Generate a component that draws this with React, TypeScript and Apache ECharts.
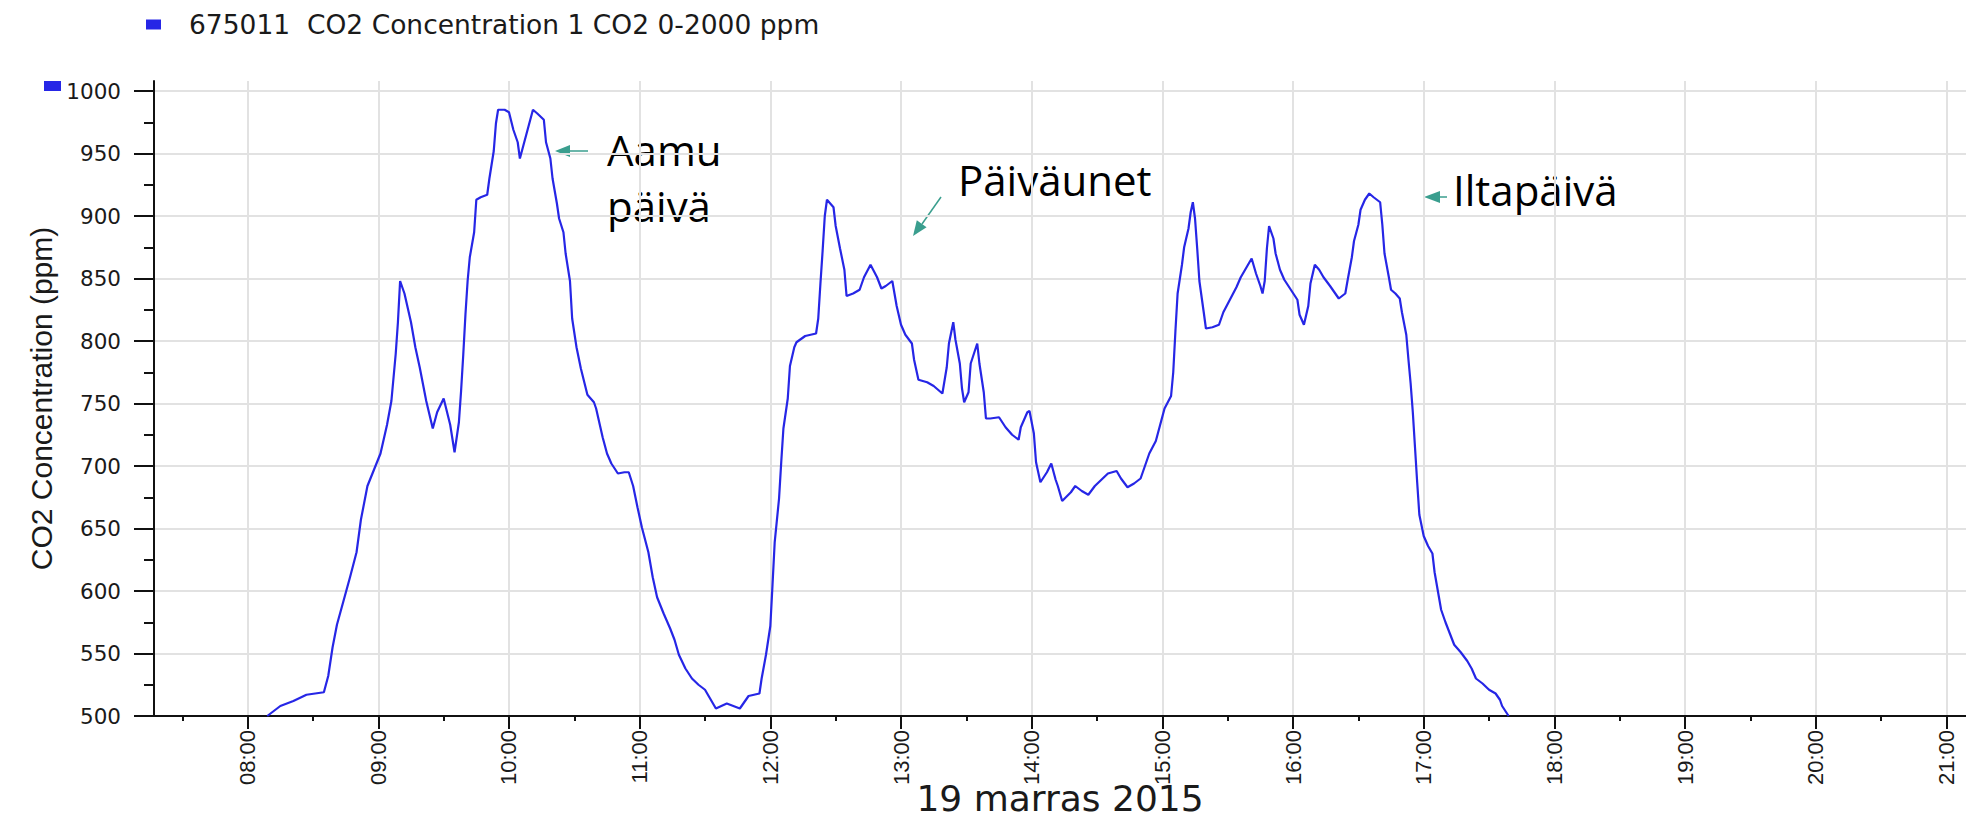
import React, { useEffect, useRef } from "react";
import * as echarts from "echarts";

const seriesName = "675011  CO2 Concentration 1 CO2 0-2000 ppm";
const xAxisName = "19 marras 2015";
const yAxisName = "CO2 Concentration (ppm)";

const times = [
  "08:09", "08:15", "08:21", "08:27", "08:35", "08:37", "08:39", "08:41", "08:44", "08:47",
  "08:50", "08:52", "08:55", "08:58", "09:01", "09:04", "09:06", "09:08", "09:09", "09:10",
  "09:12", "09:15", "09:17", "09:19", "09:22", "09:25", "09:27", "09:30", "09:33", "09:35",
  "09:37", "09:38", "09:39", "09:40", "09:41", "09:42", "09:44", "09:45", "09:47", "09:50",
  "09:51", "09:53", "09:54", "09:55", "09:58", "10:00", "10:02", "10:04", "10:05", "10:07",
  "10:09", "10:11", "10:13", "10:16", "10:17", "10:19", "10:20", "10:22", "10:23", "10:25",
  "10:26", "10:28", "10:29", "10:31", "10:33", "10:36", "10:39", "10:40", "10:43", "10:45",
  "10:47", "10:50", "10:53", "10:55", "10:57", "10:59", "11:01", "11:04", "11:06", "11:08",
  "11:11", "11:14", "11:16", "11:18", "11:21", "11:24", "11:27", "11:30", "11:32", "11:35",
  "11:40", "11:43", "11:46", "11:50", "11:55", "11:56", "11:58", "12:00", "12:01", "12:02",
  "12:04", "12:05", "12:06", "12:08", "12:09", "12:11", "12:12", "12:16", "12:21", "12:22",
  "12:23", "12:24", "12:25", "12:26", "12:29", "12:30", "12:32", "12:34", "12:35", "12:38",
  "12:41", "12:43", "12:46", "12:49", "12:51", "12:53", "12:56", "12:58", "13:00", "13:02",
  "13:05", "13:06", "13:08", "13:12", "13:15", "13:17", "13:19", "13:21", "13:22", "13:24",
  "13:25", "13:27", "13:28", "13:29", "13:31", "13:32", "13:35", "13:36", "13:38", "13:39",
  "13:41", "13:45", "13:48", "13:51", "13:54", "13:55", "13:58", "13:59", "14:01", "14:02",
  "14:04", "14:07", "14:09", "14:11", "14:12", "14:14", "14:18", "14:20", "14:23", "14:26",
  "14:29", "14:32", "14:35", "14:39", "14:41", "14:44", "14:47", "14:50", "14:52", "14:54",
  "14:57", "14:59", "15:01", "15:04", "15:05", "15:06", "15:07", "15:09", "15:10", "15:12",
  "15:13", "15:14", "15:15", "15:16", "15:17", "15:19", "15:20", "15:23", "15:26", "15:28",
  "15:31", "15:34", "15:36", "15:39", "15:41", "15:43", "15:45", "15:46", "15:47", "15:48",
  "15:49", "15:51", "15:52", "15:54", "15:56", "15:59", "16:02", "16:03", "16:05", "16:07",
  "16:08", "16:10", "16:12", "16:14", "16:17", "16:19", "16:21", "16:24", "16:25", "16:27",
  "16:28", "16:30", "16:31", "16:33", "16:35", "16:37", "16:40", "16:41", "16:42", "16:44",
  "16:45", "16:47", "16:49", "16:50", "16:52", "16:53", "16:54", "16:55", "16:56", "16:57",
  "16:58", "17:00", "17:02", "17:04", "17:05", "17:07", "17:08", "17:10", "17:12", "17:14",
  "17:17", "17:20", "17:22", "17:24", "17:27", "17:30", "17:33", "17:35", "17:36", "17:39",
];

const co2 = [
  500, 508, 512, 517, 519, 532, 555, 573, 592, 611,
  631, 657, 684, 697, 710, 733, 752, 790, 815, 848,
  838, 815, 795, 779, 752, 730, 743, 754, 733, 711,
  735, 760, 789, 821, 848, 867, 887, 913, 915, 917,
  930, 952, 974, 985, 985, 983, 969, 959, 946, 959,
  972, 985, 982, 977, 959, 946, 930, 910, 898, 887,
  870, 848, 818, 795, 778, 757, 751, 746, 723, 710,
  702, 694, 695, 695, 684, 667, 651, 631, 611, 595,
  582, 570, 561, 549, 538, 530, 525, 521, 515, 506,
  510, 508, 506, 516, 518, 530, 549, 572, 605, 639,
  674, 703, 730, 754, 780, 795, 799, 804, 806, 818,
  846, 872, 900, 913, 907, 892, 874, 857, 836, 838,
  841, 851, 861, 851, 842, 844, 848, 828, 813, 805,
  798, 785, 769, 767, 764, 761, 758, 779, 798, 815,
  801, 782, 762, 751, 759, 782, 798, 782, 759, 738,
  738, 739, 731, 725, 721, 731, 743, 744, 726, 703,
  687, 695, 702, 689, 684, 672, 679, 684, 680, 677,
  684, 689, 694, 696, 690, 683, 686, 690, 700, 710,
  720, 733, 746, 756, 775, 808, 838, 861, 875, 890,
  903, 911, 898, 874, 848, 823, 810, 811, 813, 823,
  833, 843, 851, 860, 866, 854, 844, 838, 848, 874,
  892, 882, 870, 857, 849, 841, 833, 821, 813, 828,
  846, 861, 857, 851, 844, 839, 834, 838, 848, 867,
  880, 893, 905, 913, 918, 915, 911, 893, 870, 851,
  841, 838, 834, 823, 805, 785, 766, 743, 715, 687,
  661, 644, 636, 630, 615, 595, 585, 575, 566, 557,
  551, 544, 538, 530, 526, 521, 518, 513, 508, 500,
];

const hourLabels = [
  "08:00", "09:00", "10:00", "11:00", "12:00", "13:00", "14:00",
  "15:00", "16:00", "17:00", "18:00", "19:00", "20:00", "21:00",
];
const halfHourLabels = [
  "07:30", "08:30", "09:30", "10:30", "11:30", "12:30", "13:30",
  "14:30", "15:30", "16:30", "17:30", "18:30", "19:30", "20:30",
];
const yTicks = [500, 550, 600, 650, 700, 750, 800, 850, 900, 950, 1000];
const yMinorTicks = [525, 575, 625, 675, 725, 775, 825, 875, 925, 975];
const annotationTexts = ["Aamu", "päivä", "Päiväunet", "Iltapäivä"];

const toMin = (t: string) => {
  const [h, m] = t.split(":").map(Number);
  return h * 60 + m;
};
const pad = (n: number) => (n < 10 ? "0" + n : String(n));
const fmt = (v: number) => pad(Math.floor(v / 60)) + ":" + pad(Math.round(v % 60));

const X_MIN = toMin("07:17");
const X_MAX = toMin("21:09");

const BLUE = "#2626e6";
const TEAL = "#3a9e8e";
const GRIDC = "#e2e2e2";
const AXISC = "#111111";
const TXT = "#1a1a1a";
const ANNO_FONT = "42px 'Open Sans', 'Noto Sans', sans-serif";

export default function App() {
  const ref = useRef<HTMLDivElement>(null);

  useEffect(() => {
    if (!ref.current) return;
    const chart = echarts.init(ref.current, undefined, { renderer: "svg" });
    const data = times.map((t, i) => [toMin(t), co2[i]]);
    const hours = hourLabels.map(toMin);
    const halves = halfHourLabels.map(toMin);

    const arrowHead = (tip: number[], base: number[], half: number) => {
      const dx = tip[0] - base[0];
      const dy = tip[1] - base[1];
      const len = Math.sqrt(dx * dx + dy * dy);
      const nx = -dy / len;
      const ny = dx / len;
      return [
        tip,
        [base[0] + nx * half, base[1] + ny * half],
        [base[0] - nx * half, base[1] - ny * half],
      ];
    };

    chart.setOption({
      animation: false,
      backgroundColor: "#ffffff",
      legend: {
        show: true,
        left: 141,
        top: 6,
        icon: "rect",
        itemWidth: 15,
        itemHeight: 10,
        selectedMode: false,
        data: [seriesName],
        textStyle: {
          fontFamily: "'DejaVu Sans', sans-serif",
          fontSize: 26.5,
          color: TXT,
          padding: [0, 0, 0, 23],
        },
      },
      grid: {
        left: 154,
        top: 81,
        right: 0,
        bottom: 107,
        containLabel: false,
        outerBoundsMode: "none",
      },
      xAxis: [
        {
          type: "value",
          min: X_MIN,
          max: X_MAX,
          position: "bottom",
          name: xAxisName,
          nameLocation: "middle",
          nameGap: 64,
          nameMoveOverlap: false,
          nameTextStyle: {
            fontFamily: "'DejaVu Sans', sans-serif",
            fontSize: 36,
            color: TXT,
          },
          axisLine: { show: true, lineStyle: { color: AXISC, width: 2 } },
          axisTick: {
            show: true,
            customValues: hours,
            length: 13,
            lineStyle: { color: AXISC, width: 2 },
          },
          axisLabel: {
            show: true,
            customValues: hours,
            rotate: 90,
            margin: 14,
            formatter: (v: number) => fmt(v),
            fontFamily: "'Liberation Sans', sans-serif",
            fontSize: 22,
            color: TXT,
          },
          splitLine: { show: true, lineStyle: { color: GRIDC, width: 2 } },
        },
        {
          type: "value",
          min: X_MIN,
          max: X_MAX,
          position: "bottom",
          axisLine: { show: false },
          axisTick: {
            show: true,
            customValues: halves,
            length: 5,
            lineStyle: { color: AXISC, width: 2 },
          },
          axisLabel: { show: false },
          splitLine: { show: false },
        },
      ],
      yAxis: [
        {
          type: "value",
          min: 500,
          max: 1008,
          position: "left",
          name: yAxisName,
          nameLocation: "middle",
          nameGap: 98,
          nameMoveOverlap: false,
          nameTextStyle: {
            fontFamily: "'Liberation Sans', sans-serif",
            fontSize: 30,
            color: TXT,
          },
          axisLine: { show: true, lineStyle: { color: AXISC, width: 2 } },
          axisTick: {
            show: true,
            customValues: yTicks,
            length: 20,
            lineStyle: { color: AXISC, width: 2 },
          },
          axisLabel: {
            show: true,
            customValues: yTicks,
            margin: 33,
            formatter: (v: number) => String(v),
            fontFamily: "'DejaVu Sans', sans-serif",
            fontSize: 21.5,
            color: TXT,
          },
          splitLine: { show: true, lineStyle: { color: GRIDC, width: 2 } },
        },
        {
          type: "value",
          min: 500,
          max: 1008,
          position: "left",
          axisLine: { show: false },
          axisTick: {
            show: true,
            customValues: yMinorTicks,
            length: 10,
            lineStyle: { color: AXISC, width: 2 },
          },
          axisLabel: { show: false },
          splitLine: { show: false },
        },
      ],
      series: [
        {
          name: seriesName,
          type: "line",
          xAxisIndex: 0,
          yAxisIndex: 0,
          data,
          showSymbol: false,
          symbol: "none",
          clip: true,
          itemStyle: { color: BLUE },
          lineStyle: { color: BLUE, width: 2.2 },
          z: 5,
        },
      ],
      graphic: [
        { type: "rect", shape: { x: 44, y: 81, width: 17, height: 10 }, style: { fill: BLUE } },
        { type: "text", style: { text: annotationTexts[0], x: 607, y: 149, font: ANNO_FONT, fill: "#000", verticalAlign: "middle" } },
        { type: "text", style: { text: annotationTexts[1], x: 607, y: 205, font: ANNO_FONT, fill: "#000", verticalAlign: "middle" } },
        { type: "text", style: { text: annotationTexts[2], x: 958, y: 179, font: ANNO_FONT, fill: "#000", verticalAlign: "middle" } },
        { type: "text", style: { text: annotationTexts[3], x: 1453, y: 189, font: ANNO_FONT, fill: "#000", verticalAlign: "middle" } },
        { type: "line", shape: { x1: 588, y1: 151, x2: 568, y2: 151 }, style: { stroke: TEAL, lineWidth: 1.5 } },
        { type: "polygon", shape: { points: arrowHead([555, 151], [570, 151], 6) }, style: { fill: TEAL } },
        { type: "line", shape: { x1: 941, y1: 197, x2: 922, y2: 224 }, style: { stroke: TEAL, lineWidth: 1.5 } },
        { type: "polygon", shape: { points: arrowHead([913, 236], [921.7, 223.8], 6) }, style: { fill: TEAL } },
        { type: "line", shape: { x1: 1447, y1: 197, x2: 1436, y2: 197 }, style: { stroke: TEAL, lineWidth: 1.5 } },
        { type: "polygon", shape: { points: arrowHead([1424, 197], [1440, 197], 6) }, style: { fill: TEAL } },
      ],
    });

    return () => chart.dispose();
  }, []);

  return (
    <div
      ref={ref}
      style={{ position: "fixed", left: 0, top: 0, width: 1966, height: 823, background: "#fff" }}
    />
  );
}
